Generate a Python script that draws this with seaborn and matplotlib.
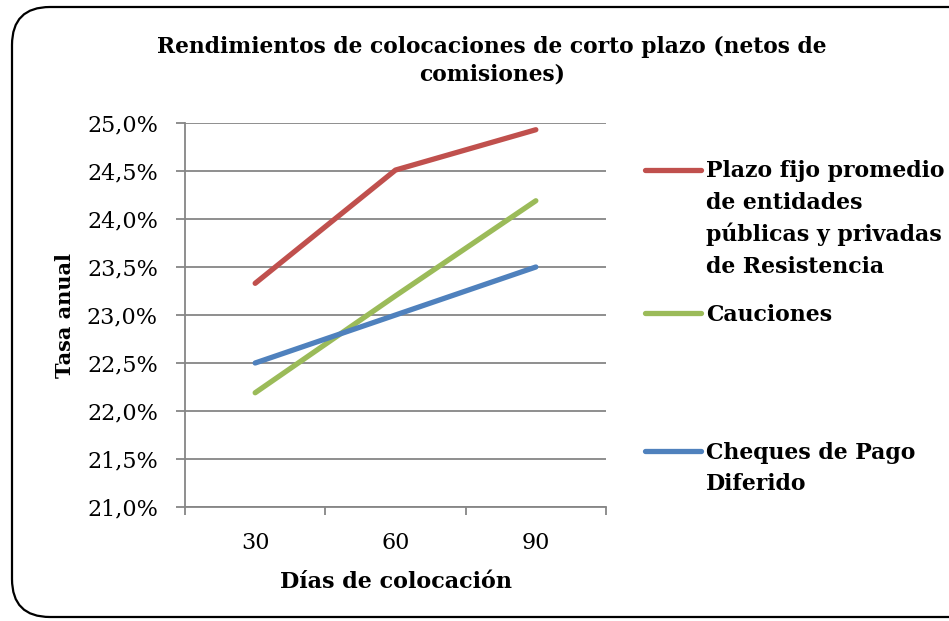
import pandas as pd
import matplotlib
matplotlib.use("Agg")
import matplotlib.pyplot as plt
from matplotlib.patches import FancyBboxPatch
from matplotlib.lines import Line2D
import seaborn as sns

####### data ########
dias = [30, 60, 90]
plazo_fijo = [23.33, 24.51, 24.93]
cauciones = [22.19, 23.20, 24.19]
cheques = [22.50, 23.00, 23.50]

series_names = ["Plazo fijo promedio de entidades públicas y privadas de Resistencia",
                "Cauciones", "Cheques de Pago Diferido"]
colores = ["#C0504D", "#9BBB59", "#4F81BD"]
y_ticks = [21.0, 21.5, 22.0, 22.5, 23.0, 23.5, 24.0, 24.5, 25.0]

df = pd.DataFrame({
    "dias": dias * 3,
    "tasa": plazo_fijo + cauciones + cheques,
    "serie": [series_names[0]] * 3 + [series_names[1]] * 3 + [series_names[2]] * 3,
})

sns.set_style("white")
plt.rcParams["font.family"] = ["DejaVu Serif"]
plt.rcParams["text.color"] = "black"
plt.rcParams["axes.labelcolor"] = "black"
plt.rcParams["xtick.labelcolor"] = "black"
plt.rcParams["ytick.labelcolor"] = "black"

fig = plt.figure(figsize=(9.49, 6.21), dpi=100)

#rounded frame around the chart (right side runs off the picture)
frame = FancyBboxPatch((0.12, 0.04), 10.0, 6.21 - 0.07 - 0.04,
                       boxstyle="round,pad=0,rounding_size=0.38",
                       transform=fig.dpi_scale_trans, facecolor="none",
                       edgecolor="black", linewidth=1.6, zorder=-1)
fig.patches.append(frame)

ax = fig.add_axes([185 / 949, 1 - 507 / 621, 421 / 949, 384 / 621])
ax.set_facecolor("none")

lw = 3.8
sns.lineplot(data=df, x="dias", y="tasa", hue="serie", palette=colores,
             linewidth=lw, ax=ax, legend=False, solid_capstyle="round")

grid_col = "#868686"
ax.set_xlim(15, 105)
ax.set_ylim(21, 25)
ax.set_yticks(y_ticks)
ax.set_yticklabels([f"{v:.1f}%".replace(".", ",") for v in y_ticks], fontsize=16)
ax.set_xticks(dias)
ax.set_xticklabels([str(d) for d in dias], fontsize=16)
ax.set_xticks([15, 45, 75, 105], minor=True)
ax.tick_params(axis="x", which="major", bottom=True, length=0, pad=18)
ax.tick_params(axis="x", which="minor", bottom=True, length=6, width=1.3,
               color=grid_col, direction="out")
ax.tick_params(axis="y", left=True, length=6.5, width=1.3, color=grid_col,
               direction="out", pad=13)
ax.yaxis.grid(True, color=grid_col, linewidth=1.3)
ax.set_axisbelow(True)
for s in ["top", "right"]:
    ax.spines[s].set_visible(False)
for s in ["left", "bottom"]:
    ax.spines[s].set_color(grid_col)
    ax.spines[s].set_linewidth(1.3)

ax.set_xlabel("Días de colocación", fontsize=16, fontweight="bold", labelpad=12)
ax.set_ylabel("Tasa anual", fontsize=15, fontweight="bold")
ax.yaxis.set_label_coords(-0.262, 0.5)

fig.text(492 / 949, 1 - 61 / 621,
         "Rendimientos de colocaciones de corto plazo (netos de\ncomisiones)",
         ha="center", va="center", fontsize=15.7, fontweight="bold",
         linespacing=1.3)

####### legend (three blocks, one per serie) ########
lines = ax.get_lines()
blank = Line2D([], [], color="none")
blocks = [
    ([lines[0], blank, blank, blank],
     ["Plazo fijo promedio", "de entidades", "públicas y privadas", "de Resistencia"], 219),
    ([lines[1]], ["Cauciones"], 315),
    ([lines[2], blank], ["Cheques de Pago", "Diferido"], 468.5),
]
for handles, labels, yc in blocks:
    leg = fig.legend(handles, labels, loc="center left",
                     bbox_to_anchor=(645 / 949, 1 - yc / 621),
                     frameon=False, borderpad=0, borderaxespad=0,
                     handlelength=2.55, handletextpad=0.22, labelspacing=0.42,
                     prop={"family": "DejaVu Serif", "weight": "bold", "size": 15.8})
    for h in leg.legend_handles:
        h.set_linewidth(lw)
        h.set_solid_capstyle("round")

fig.savefig("out.png", dpi=100)
